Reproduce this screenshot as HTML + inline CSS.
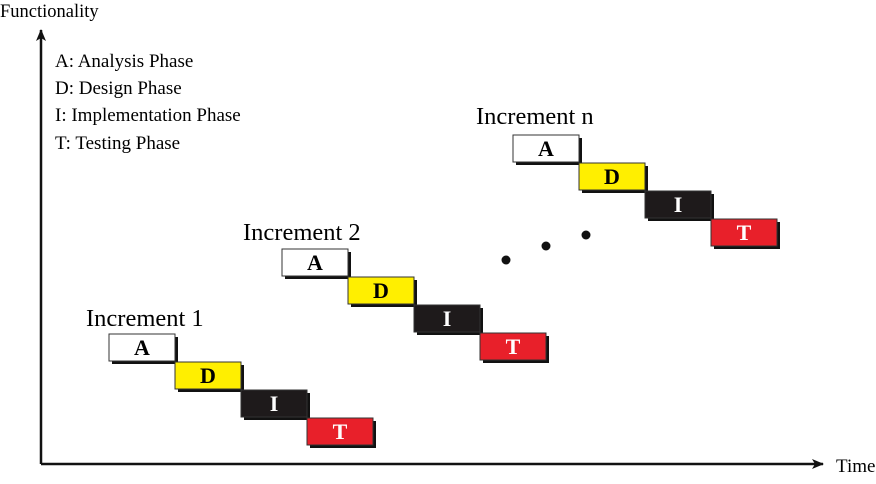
<!DOCTYPE html>
<html><head><meta charset="utf-8"><style>body{margin:0;background:#fff}</style></head>
<body>
<svg width="876" height="479" viewBox="0 0 876 479" xmlns="http://www.w3.org/2000/svg" font-family="Liberation Serif, serif">
<defs>
<marker id="ar" markerWidth="12" markerHeight="10" refX="11" refY="5" orient="auto" markerUnits="userSpaceOnUse">
<path d="M0,0 L12,5 L0,10 L3,5 Z" fill="#111"/></marker>
</defs>
<line x1="41" y1="464" x2="41" y2="30" stroke="#111" stroke-width="2.5" marker-end="url(#ar)"/>
<line x1="41" y1="464" x2="823" y2="464" stroke="#111" stroke-width="2.5" marker-end="url(#ar)"/>
<text x="0" y="17" font-size="18.5">Functionality</text>
<text x="836" y="472" font-size="19">Time</text>
<g font-size="19">
<text x="55" y="67">A: Analysis Phase</text>
<text x="55" y="94">D: Design Phase</text>
<text x="55" y="121">I: Implementation Phase</text>
<text x="55" y="149">T: Testing Phase</text>
</g>
<g font-size="24.5">
<text x="86" y="326">Increment 1</text>
<text x="243" y="240">Increment 2</text>
<text x="476" y="124">Increment n</text>
</g>
<circle cx="506" cy="260" r="4.5" fill="#111"/>
<circle cx="546" cy="246" r="4.5" fill="#111"/>
<circle cx="586" cy="235" r="4.5" fill="#111"/>

<g transform="translate(109,334)" font-size="22" font-weight="bold" text-anchor="middle">
<rect x="3" y="3" width="66" height="27" fill="#111"/>
<rect x="0" y="0" width="66" height="27" fill="#fff" stroke="#333" stroke-width="1"/>
<text x="33" y="21">A</text>
<rect x="69" y="31" width="66" height="27" fill="#111"/>
<rect x="66" y="28" width="66" height="27" fill="#ffef00" stroke="#333" stroke-width="1"/>
<text x="99" y="49">D</text>
<rect x="135" y="59" width="66" height="27" fill="#111"/>
<rect x="132" y="56" width="66" height="27" fill="#1e1a1b" stroke="#333" stroke-width="1"/>
<text x="165" y="77" fill="#fff">I</text>
<rect x="201" y="87" width="66" height="27" fill="#111"/>
<rect x="198" y="84" width="66" height="27" fill="#e8202a" stroke="#333" stroke-width="1"/>
<text x="231" y="105" fill="#fff">T</text>
</g>

<g transform="translate(282,249)" font-size="22" font-weight="bold" text-anchor="middle">
<rect x="3" y="3" width="66" height="27" fill="#111"/>
<rect x="0" y="0" width="66" height="27" fill="#fff" stroke="#333" stroke-width="1"/>
<text x="33" y="21">A</text>
<rect x="69" y="31" width="66" height="27" fill="#111"/>
<rect x="66" y="28" width="66" height="27" fill="#ffef00" stroke="#333" stroke-width="1"/>
<text x="99" y="49">D</text>
<rect x="135" y="59" width="66" height="27" fill="#111"/>
<rect x="132" y="56" width="66" height="27" fill="#1e1a1b" stroke="#333" stroke-width="1"/>
<text x="165" y="77" fill="#fff">I</text>
<rect x="201" y="87" width="66" height="27" fill="#111"/>
<rect x="198" y="84" width="66" height="27" fill="#e8202a" stroke="#333" stroke-width="1"/>
<text x="231" y="105" fill="#fff">T</text>
</g>

<g transform="translate(513,135)" font-size="22" font-weight="bold" text-anchor="middle">
<rect x="3" y="3" width="66" height="27" fill="#111"/>
<rect x="0" y="0" width="66" height="27" fill="#fff" stroke="#333" stroke-width="1"/>
<text x="33" y="21">A</text>
<rect x="69" y="31" width="66" height="27" fill="#111"/>
<rect x="66" y="28" width="66" height="27" fill="#ffef00" stroke="#333" stroke-width="1"/>
<text x="99" y="49">D</text>
<rect x="135" y="59" width="66" height="27" fill="#111"/>
<rect x="132" y="56" width="66" height="27" fill="#1e1a1b" stroke="#333" stroke-width="1"/>
<text x="165" y="77" fill="#fff">I</text>
<rect x="201" y="87" width="66" height="27" fill="#111"/>
<rect x="198" y="84" width="66" height="27" fill="#e8202a" stroke="#333" stroke-width="1"/>
<text x="231" y="105" fill="#fff">T</text>
</g>
</svg>
</body></html>
